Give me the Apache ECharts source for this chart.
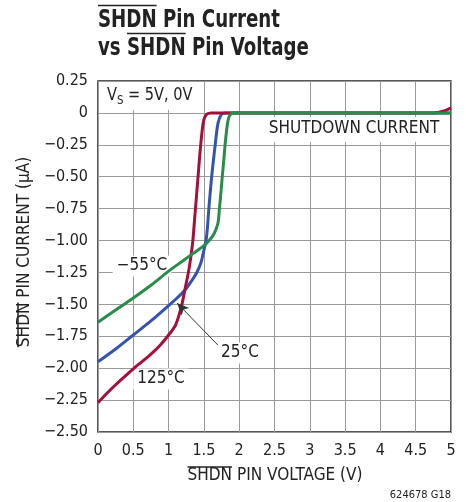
<!DOCTYPE html>
<html>
<head>
<meta charset="utf-8">
<script src="https://cdn.jsdelivr.net/npm/echarts@6/dist/echarts.min.js"></script>
<style>
html, body { margin: 0; padding: 0; background: #fff; }
#chart1 { width: 466px; height: 502px; }
</style>
</head>
<body>
<div id="chart1"></div>
<script>
// 读图得到的数据 (V, µA)
const curve125 = [
    [0, -2.27], [0.12, -2.2], [0.25, -2.13], [0.4, -2.055], [0.5, -2.005], [0.62, -1.95],
    [0.75, -1.89], [0.88, -1.82], [1.0, -1.74], [1.1, -1.66], [1.18, -1.52], [1.24, -1.36],
    [1.29, -1.22], [1.34, -1.02], [1.37, -0.82], [1.41, -0.55], [1.45, -0.28], [1.49, -0.08],
    [1.53, -0.015], [1.6, 0], [4.75, 0], [4.9, 0.015], [5, 0.04]
];
const curve25 = [
    [0, -1.95], [0.25, -1.85], [0.5, -1.74], [0.75, -1.63], [1.0, -1.51], [1.12, -1.45],
    [1.23, -1.39], [1.32, -1.32], [1.40, -1.25], [1.46, -1.17], [1.49, -1.10], [1.53, -1.0],
    [1.55, -0.9], [1.57, -0.75], [1.61, -0.5], [1.66, -0.25], [1.70, -0.08], [1.75, -0.01],
    [1.8, 0], [5, 0]
];
const curveM55 = [
    [0, -1.64], [0.25, -1.545], [0.5, -1.45], [0.75, -1.35], [1.0, -1.24], [1.2, -1.16],
    [1.35, -1.1], [1.5, -1.04], [1.59, -0.99], [1.65, -0.94], [1.70, -0.86], [1.72, -0.75],
    [1.745, -0.6], [1.76, -0.5], [1.78, -0.38], [1.80, -0.25], [1.83, -0.1], [1.86, -0.025],
    [1.92, 0], [5, 0]
];
// 25°C 箭头 (起点, 终点)
const arrow25 = [[1.70, -1.82], [1.12, -1.49]];

const xMin = 0, xMax = 5, xStep = 0.5;
const yMin = -2.5, yMax = 0.25, yStep = 0.25;

const NARROW = '"Liberation Sans Narrow", "DejaVu Sans Condensed", "Roboto", sans-serif';
const measureCtx = document.createElement('canvas').getContext('2d');
function textWidth(str, font) {
    measureCtx.font = font;
    return measureCtx.measureText(str).width;
}
function overline(x1, y1, x2, y2) {
    return {
        type: 'line', z: 120, silent: true,
        shape: { x1: x1, y1: y1, x2: x2, y2: y2 },
        style: { stroke: '#222', lineWidth: 1.5 }
    };
}

function initChart() {
    const chart = echarts.init(document.getElementById('chart1'), null, { renderer: 'canvas' });

    const titleFont = 'bold 25px ' + NARROW;
    const axisFont = '17px ' + NARROW;
    // 标题用压缩字体的宽度
    const titleScale = 182 / textWidth('SHDN Pin Current', titleFont);
    const wShdnTitle = textWidth('SHDN', titleFont) * titleScale;
    const wVs = textWidth('vs ', titleFont) * titleScale;
    const nameScale = 175 / textWidth('SHDN PIN VOLTAGE (V)', axisFont);
    const wShdnAxis = textWidth('SHDN', axisFont) * nameScale;
    const wYName = textWidth('SHDN PIN CURRENT (\u00b5A)', axisFont) * nameScale;
    const wXName = 175;

    const xNameX = 275, xNameY = 476;
    const yNameX = 25, yNameY = 252;

    const graphic = [
        // 标题
        { type: 'text', x: 98, y: 20, scaleX: titleScale, z: 110, style: { text: 'SHDN Pin Current', font: titleFont, fill: '#222', verticalAlign: 'middle' } },
        { type: 'text', x: 98, y: 48, scaleX: titleScale, z: 110, style: { text: 'vs SHDN Pin Voltage', font: titleFont, fill: '#222', verticalAlign: 'middle' } },
        overline(98, 5.5, 98 + wShdnTitle, 5.5),
        overline(98 + wVs, 33.5, 98 + wVs + wShdnTitle, 33.5),
        // 坐标轴名称
        { type: 'text', x: xNameX, y: xNameY, scaleX: nameScale, z: 110, style: { text: 'SHDN PIN VOLTAGE (V)', font: axisFont, fill: '#222', align: 'center', verticalAlign: 'middle' } },
        overline(xNameX - wXName / 2, 467, xNameX - wXName / 2 + wShdnAxis, 467),
        { type: 'text', x: yNameX, y: yNameY, rotation: Math.PI / 2, scaleX: nameScale, z: 110, style: { text: 'SHDN PIN CURRENT (\u00b5A)', font: axisFont, fill: '#222', align: 'center', verticalAlign: 'middle' } },
        overline(18, yNameY + wYName / 2, 18, yNameY + wYName / 2 - wShdnAxis),
        // 图中标注 (白底遮住网格线, 曲线在上)
        { type: 'rect', z: 1, shape: { x: 99, y: 82, width: 99, height: 28 }, style: { fill: '#fff' } },
        { type: 'text', x: 107, y: 96, scaleX: 0.95, z: 1, style: {
            text: 'V{s|S} = 5V, 0V', font: axisFont, fill: '#222', verticalAlign: 'middle',
            rich: { s: { fontSize: 12, fontFamily: NARROW, fill: '#222', padding: [9, 0, 0, 0] } }
        } },
        { type: 'rect', z: 1, shape: { x: 265, y: 117, width: 178, height: 25 }, style: { fill: '#fff' } },
        { type: 'text', x: 354, y: 129, z: 1, style: { text: 'SHUTDOWN CURRENT', font: axisFont, fill: '#222', align: 'center', verticalAlign: 'middle' } },
        { type: 'text', x: 142, y: 266, z: 1, style: { text: '\u221255\u00b0C', font: axisFont, fill: '#222', align: 'center', verticalAlign: 'middle', backgroundColor: '#fff', padding: [2, 4] } },
        { type: 'text', x: 161, y: 379, z: 1, style: { text: '125\u00b0C', font: axisFont, fill: '#222', align: 'center', verticalAlign: 'middle', backgroundColor: '#fff', padding: [2, 4] } },
        { type: 'text', x: 240, y: 353, z: 1, style: { text: '25\u00b0C', font: axisFont, fill: '#222', align: 'center', verticalAlign: 'middle', backgroundColor: '#fff', padding: [2, 4] } },
        // 图号
        { type: 'text', x: 451, y: 495, z: 110, style: { text: '624678 G18', font: '11px ' + NARROW, fill: '#222', align: 'right', verticalAlign: 'middle' } }
    ];

    const lineBase = {
        type: 'line', showSymbol: false, smooth: 0.3,
        silent: true, animation: false
    };

    const option = {
        animation: false,
        backgroundColor: '#fff',
        grid: {
            left: 98, right: 15, top: 81, bottom: 70,
            show: true, borderColor: '#222', borderWidth: 1.5, backgroundColor: 'transparent'
        },
        xAxis: {
            type: 'value', min: xMin, max: xMax, interval: xStep,
            axisLine: { show: false }, axisTick: { show: false },
            splitLine: { show: true, lineStyle: { color: '#9a9a9a', width: 1 } },
            axisLabel: {
                margin: 11, color: '#222', fontSize: 16, fontFamily: NARROW,
                formatter: function (v) { return String(v); }
            }
        },
        yAxis: {
            type: 'value', min: yMin, max: yMax, interval: yStep,
            axisLine: { show: false }, axisTick: { show: false },
            splitLine: { show: true, lineStyle: { color: '#9a9a9a', width: 1 } },
            axisLabel: {
                margin: 10, color: '#222', fontSize: 16, fontFamily: NARROW,
                formatter: function (v) {
                    if (Math.abs(v) < 1e-9) return '0';
                    return v < 0 ? '\u2212' + Math.abs(v).toFixed(2) : v.toFixed(2);
                }
            }
        },
        series: [
            Object.assign({}, lineBase, {
                name: '25\u00b0C', data: curve25, z: 3,
                lineStyle: { color: '#3355b0', width: 3 },
                markLine: {
                    silent: true, animation: false, symbol: ['none', 'arrow'], symbolSize: [8, 12],
                    label: { show: false },
                    lineStyle: { color: '#333', width: 1, type: 'solid' },
                    data: [[{ coord: arrow25[0] }, { coord: arrow25[1] }]]
                }
            }),
            Object.assign({}, lineBase, {
                name: '125\u00b0C', data: curve125, z: 4,
                lineStyle: { color: '#a50f38', width: 3 }
            }),
            Object.assign({}, lineBase, {
                name: '-55\u00b0C', data: curveM55, z: 5,
                lineStyle: { color: '#288c4b', width: 3 }
            })
        ],
        graphic: graphic
    };

    chart.setOption(option);
}

window.addEventListener('load', initChart);
</script>
</body>
</html>
